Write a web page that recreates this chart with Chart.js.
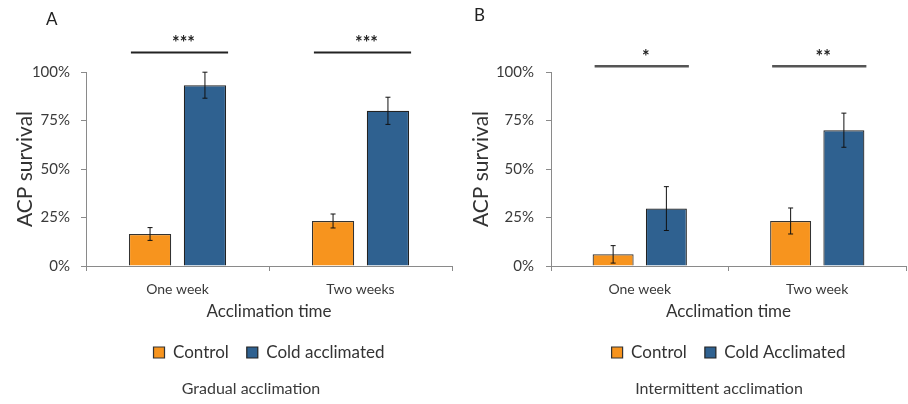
<!DOCTYPE html>
<html>
<head>
<meta charset="utf-8">
<script src="https://cdn.jsdelivr.net/npm/chart.js@4.4.1/dist/chart.umd.min.js"></script>
<style>
  body { margin: 0; background: #fff; }
  #wrap { position: relative; width: 908px; height: 404px; }
  canvas { position: absolute; top: 0; }
</style>
</head>
<body>
<div id="wrap">
  <canvas id="chartA" width="454" height="404" style="left:0"></canvas>
  <canvas id="chartB" width="454" height="404" style="left:454px"></canvas>
</div>
<script>
// Panel A - gradual acclimation
const categoriesA = ['One week', 'Two weeks'];
const controlA = [16.5, 23.2];
const coldA = [93.2, 80.0];
const controlErrA = [3.3, 3.6];
const coldErrA = [6.7, 7.0];
const starsA = ['***', '***'];
const sigLevelA = 110;

// Panel B - intermittent acclimation
const categoriesB = ['One week', 'Two week'];
const controlB = [6.0, 23.2];
const coldB = [29.6, 70.0];
const controlErrB = [4.5, 6.7];
const coldErrB = [11.3, 8.8];
const starsB = ['*', '**'];
const sigLevelB = 103;

// Shared y axis ticks (percent)
const yTicks = [0, 25, 50, 75, 100];

const FONT = 'Lato, "Open Sans", sans-serif';
const TEXT = '#3a3a3a';
const AXIS = '#8a8a8a';
const ORANGE = '#F7941E';
const BLUE = '#2F6190';

// Error bars, significance brackets, panel letter and caption
const extras = {
  id: 'extras',
  afterDatasetsDraw(chart, args, opts) {
    const ctx = chart.ctx;
    const y = chart.scales.y;
    ctx.save();

    // error bars
    ctx.strokeStyle = '#111';
    ctx.lineWidth = 1;
    chart.data.datasets.forEach((ds, di) => {
      const meta = chart.getDatasetMeta(di);
      meta.data.forEach((bar, i) => {
        const v = ds.data[i];
        const e = ds.errors[i];
        const yTop = y.getPixelForValue(v + e);
        const yBot = y.getPixelForValue(v - e);
        ctx.beginPath();
        ctx.moveTo(bar.x, yTop);
        ctx.lineTo(bar.x, yBot);
        ctx.moveTo(bar.x - 2.5, yTop);
        ctx.lineTo(bar.x + 2.5, yTop);
        ctx.moveTo(bar.x - 2.5, yBot);
        ctx.lineTo(bar.x + 2.5, yBot);
        ctx.stroke();
      });
    });

    // significance lines and stars
    const m0 = chart.getDatasetMeta(0);
    const m1 = chart.getDatasetMeta(1);
    const yl = y.getPixelForValue(opts.sigLevel);
    ctx.strokeStyle = opts.sigColor;
    ctx.lineWidth = opts.sigWidth;
    ctx.fillStyle = '#222';
    ctx.font = 'bold 18px ' + FONT;
    ctx.textAlign = 'center';
    ctx.textBaseline = 'middle';
    m0.data.forEach((b0, i) => {
      const b1 = m1.data[i];
      const x0 = b0.x - b0.width / 2 + 2;
      const x1 = b1.x + b1.width / 2 + 2;
      ctx.beginPath();
      ctx.moveTo(x0, yl);
      ctx.lineTo(x1, yl);
      ctx.stroke();
      ctx.fillText(opts.stars[i], (x0 + x1) / 2 + 4, yl - 9);
    });

    // panel letter
    ctx.fillStyle = '#222';
    ctx.font = '17px ' + FONT;
    ctx.textAlign = 'left';
    ctx.textBaseline = 'middle';
    ctx.fillText(opts.letter, opts.letterX, opts.letterY);

    // caption under the legend
    ctx.fillStyle = TEXT;
    ctx.font = '16px ' + FONT;
    ctx.textAlign = 'center';
    ctx.fillText(opts.caption, opts.captionX, 389);
    ctx.restore();
  }
};

function makeChart(id, cats, ctrl, cold, ctrlErr, coldErr, coldLabel, cfg) {
  return new Chart(document.getElementById(id), {
    type: 'bar',
    data: {
      labels: cats,
      datasets: [
        { label: 'Control', data: ctrl, errors: ctrlErr, backgroundColor: ORANGE,
          borderColor: '#333', borderWidth: 1.2 },
        { label: coldLabel, data: cold, errors: coldErr, backgroundColor: BLUE,
          borderColor: '#222', borderWidth: 1.2 }
      ]
    },
    options: {
      responsive: false,
      animation: false,
      devicePixelRatio: 1,
      categoryPercentage: 0.6,
      barPercentage: 0.77,
      layout: { padding: { top: 72, left: cfg.padLeft, right: 2, bottom: 33 } },
      scales: {
        x: {
          grid: { drawOnChartArea: false, tickLength: 5, color: AXIS },
          border: { color: AXIS },
          ticks: { color: TEXT, padding: 10, font: { family: FONT, size: 14 } },
          title: { display: true, text: 'Acclimation time', color: '#333',
                   font: { family: FONT, size: 17 } },
          afterFit(scale) { scale.height = 60; }
        },
        y: {
          min: 0,
          max: 100,
          grid: { drawOnChartArea: false, tickLength: 5, color: AXIS },
          border: { color: AXIS },
          afterBuildTicks(scale) { scale.ticks = yTicks.map(v => ({ value: v })); },
          ticks: { color: TEXT, padding: cfg.tickPad, font: { family: FONT, size: 15 },
                   callback: v => v + '%' },
          title: { display: true, text: 'ACP survival', color: '#333',
                   font: { family: FONT, size: 21 } },
          afterFit(scale) { scale.width = cfg.yWidth; }
        }
      },
      plugins: {
        legend: {
          position: 'bottom',
          fullSize: false,
          labels: { boxWidth: 11, boxHeight: 11, padding: 18, color: '#333',
                    font: { family: FONT, size: 17 } }
        },
        tooltip: { enabled: false },
        extras: cfg.extras
      }
    },
    plugins: [extras]
  });
}

makeChart('chartA', categoriesA, controlA, coldA, controlErrA, coldErrA, 'Cold acclimated', {
  padLeft: 9, yWidth: 77, tickPad: 11,
  extras: { sigLevel: sigLevelA, stars: starsA, sigColor: '#222', sigWidth: 2,
            letter: 'A', letterX: 46, letterY: 20, caption: 'Gradual acclimation', captionX: 251 }
});

makeChart('chartB', categoriesB, controlB, coldB, controlErrB, coldErrB, 'Cold Acclimated', {
  padLeft: 11, yWidth: 86, tickPad: 12,
  extras: { sigLevel: sigLevelB, stars: starsB, sigColor: '#555', sigWidth: 2.5,
            letter: 'B', letterX: 20, letterY: 16, caption: 'Intermittent acclimation', captionX: 265 }
});
</script>
</body>
</html>
